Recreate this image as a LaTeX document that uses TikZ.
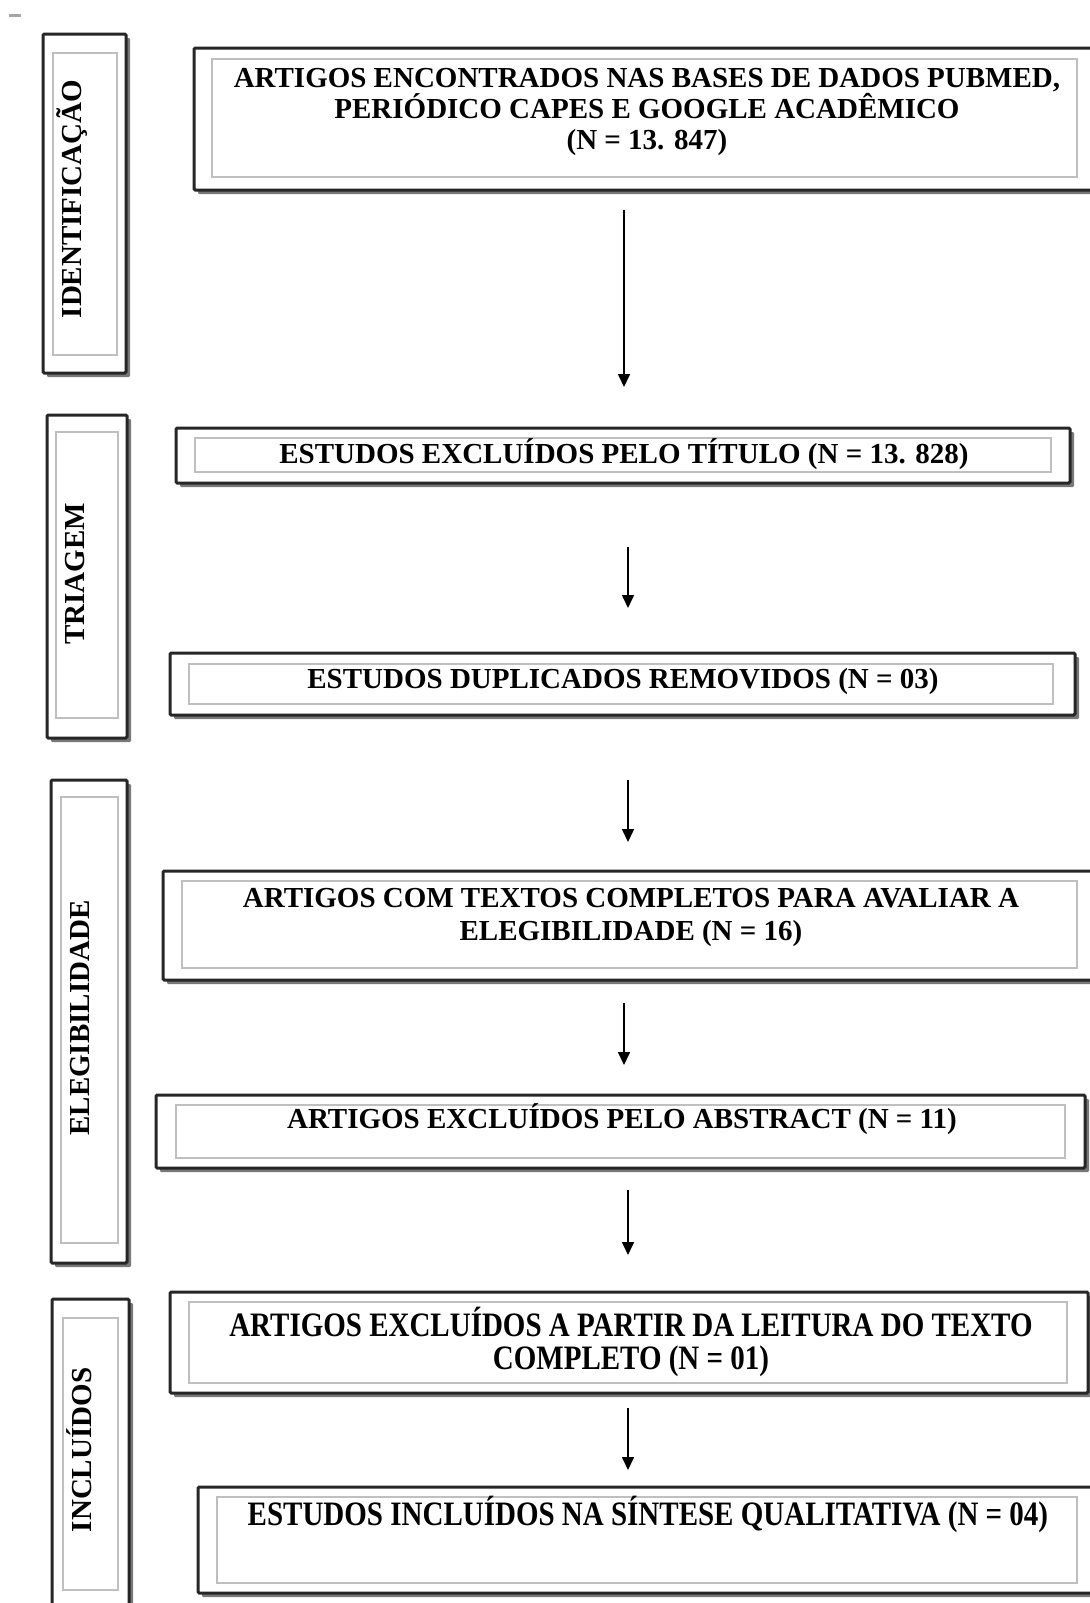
\documentclass[tikz,border=0pt]{standalone}
\usepackage{fontspec}
\setmainfont{Liberation Serif}
\usetikzlibrary{shadows,arrows.meta,fit}
\begin{document}
\begin{tikzpicture}[x=0.5pt,y=-0.5pt,
  obox/.style={draw=black!85, line width=1.5pt, fill=white, inner sep=0pt, outer sep=0pt, rounded corners=0.6pt,
    drop shadow={shadow xshift=2pt, shadow yshift=-2pt, fill=black!70, opacity=0.75}},
  ibox/.style={draw=black!25, line width=0.9pt},
  txt/.style={font=\bfseries\fontsize{14.5}{15.5}\selectfont, inner sep=0pt, align=center},
  arr/.style={-{Triangle[length=6.5pt,width=6pt]}, line width=0.8pt}]
\useasboundingbox (0,0) rectangle (1090,1603);
\clip (0,0) rectangle (1090,1603);
\fill[white] (0,0) rectangle (1090,1603);
\fill[black!35] (9,14) rectangle (21,17);

% left phase boxes
\node[obox, fit={(43,34) (126,373)}] (L1) {};
\draw[ibox] (53,53) rectangle (117,355);
\node[txt, rotate=90, anchor=base] (t1) at (82,199) {IDENTIFICAÇÃO};

\node[obox, fit={(47,415) (127,738)}] (L2) {};
\draw[ibox] (56,432) rectangle (118,718);
\node[txt, rotate=90, anchor=base] (t2) at (84,574) {TRIAGEM};

\node[obox, fit={(51,780) (127,1263)}] (L3) {};
\draw[ibox] (61,797) rectangle (118,1243);
\node[txt, rotate=90, anchor=base] (t3) at (89,1018) {ELEGIBILIDADE};

\node[obox, fit={(52,1299) (129,1625)}] (L4) {};
\draw[ibox] (63,1318) rectangle (118,1590);
\node[txt, rotate=90, anchor=base] (t4) at (91,1450) {INCLUÍDOS};

% right flow boxes
\node[obox, fit={(194,48) (1100,190)}] (B1) {};
\draw[ibox] (212,59) rectangle (1077,177);
\node[txt, anchor=north] (T1) at (647,68) {ARTIGOS ENCONTRADOS NAS BASES DE DADOS PUBMED,\\PERIÓDICO CAPES E GOOGLE ACADÊMICO\\(N = 13. 847)};

\node[obox, fit={(176,428) (1070,483)}] (B2) {};
\draw[ibox] (195,438) rectangle (1051,472);
\node[txt, anchor=base] (T2) at (624,463) {ESTUDOS EXCLUÍDOS PELO TÍTULO (N = 13. 828)};

\node[obox, fit={(170,653) (1075,715)}] (B3) {};
\draw[ibox] (189,664) rectangle (1053,704);
\node[txt, anchor=base] (T3) at (623,688) {ESTUDOS DUPLICADOS REMOVIDOS (N = 03)};

\node[obox, fit={(163,871) (1100,980)}] (B4) {};
\draw[ibox] (182,881) rectangle (1077,968);
\node[txt, anchor=north, font=\bfseries\fontsize{14.5}{16.5}\selectfont] (T4) at (631,888) {ARTIGOS COM TEXTOS COMPLETOS PARA AVALIAR A\\ELEGIBILIDADE (N = 16)};

\node[obox, fit={(156,1095) (1085,1168)}] (B5) {};
\draw[ibox] (176,1105) rectangle (1065,1158);
\node[txt, anchor=base] (T5) at (622,1128) {ARTIGOS EXCLUÍDOS PELO ABSTRACT (N = 11)};

\node[obox, fit={(170,1292) (1088,1393)}] (B6) {};
\draw[ibox] (189,1302) rectangle (1067,1383);
\node[txt, anchor=north, font=\bfseries\fontsize{14.5}{16.5}\selectfont] (T6) at (631,1307) {\scalebox{1}[1.18]{ARTIGOS EXCLUÍDOS A PARTIR DA LEITURA DO TEXTO}\\\scalebox{1}[1.18]{COMPLETO (N = 01)}};

\node[obox, fit={(198,1487) (1100,1593)}] (B7) {};
\draw[ibox] (217,1497) rectangle (1077,1583);
\node[txt, anchor=base] (T7) at (648,1525) {\scalebox{1}[1.18]{ESTUDOS INCLUÍDOS NA SÍNTESE QUALITATIVA (N = 04)}};

% arrows
\coordinate (a1) at (624,0);
\coordinate (a2) at (628,0);
\coordinate (a3) at (628,0);
\coordinate (a4) at (624,0);
\coordinate (a5) at (628,0);
\coordinate (a6) at (628,0);
\draw[arr, shorten <=10pt, shorten >=20.5pt] (B1.south -| a1) -- (B2.north -| a1);
\draw[arr, shorten <=32pt, shorten >=22.5pt] (B2.south -| a2) -- (B3.north -| a2);
\draw[arr, shorten <=32.5pt, shorten >=14.5pt] (B3.south -| a3) -- (B4.north -| a3);
\draw[arr, shorten <=11.5pt, shorten >=15pt] (B4.south -| a4) -- (B5.north -| a4);
\draw[arr, shorten <=11pt, shorten >=18.5pt] (B5.south -| a5) -- (B6.north -| a5);
\draw[arr, shorten <=7.5pt, shorten >=8.5pt] (B6.south -| a6) -- (B7.north -| a6);
\end{tikzpicture}
\end{document}
